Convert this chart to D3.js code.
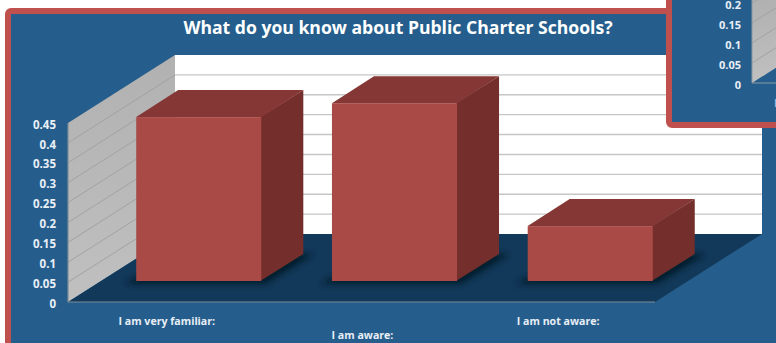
<!DOCTYPE html>
<html>
<head>
<meta charset="utf-8">
<script src="https://cdn.jsdelivr.net/npm/d3@7/dist/d3.min.js"></script>
<style>
html,body{margin:0;padding:0;background:#fff;overflow:hidden}
svg{display:block}
text{font-family:"Open Sans",sans-serif;font-weight:700}
</style>
</head>
<body>
<svg id="chart" width="776" height="343"></svg>
<script>
const titleText = "What do you know about Public Charter Schools?";
const categories = ["I am very familiar:", "I am aware:", "I am not aware:"];
const values = [0.412, 0.447, 0.138];
const yTicks = [0, 0.05, 0.1, 0.15, 0.2, 0.25, 0.3, 0.35, 0.4, 0.45];
const insetTicks = [0, 0.05, 0.1, 0.15, 0.2];

const colors = {
  blue: "#255e8c", frame: "#c0504d", floor: "#12395a", shadow: "#061c2b",
  wall: "#b9b9b9", wallGrid: "#a2a2a2", backGrid: "#c6c6c6",
  front: "#a94a46", top: "#843734", side: "#742f2d", text: "#e9eff6"
};

const svg = d3.select("#chart");

// Oblique projection: the floor recedes by this offset from front to back.
const depth = {dx: 107, dy: -68};
const barInset = {dx: 33, dy: -21};   // front face of a bar relative to the floor's front edge
const barDepth = {dx: 42, dy: -27};   // front-to-back extent of a bar

const plotLeft = 68, plotRight = 655;
const y = d3.scaleLinear().domain([0, 0.45]).range([302, 123]);
const x = d3.scaleBand().domain(categories).range([plotLeft, plotRight])
  .paddingInner(0.361).paddingOuter(0.18);
const labelX = d3.scaleBand().domain(categories).range([plotLeft, plotRight]);

const pts = a => a.map(p => p.join(",")).join(" ");

// Slide background and frame
svg.append("rect").attr("x", 8).attr("y", 11).attr("width", 820).attr("height", 400).attr("rx", 3)
  .attr("fill", colors.blue).attr("stroke", colors.frame).attr("stroke-width", 6);

const defs = svg.append("defs");
defs.append("filter").attr("id", "soft").attr("x", "-30%").attr("y", "-30%").attr("width", "160%").attr("height", "160%")
  .append("feGaussianBlur").attr("stdDeviation", 3);
const wallGrad = defs.append("linearGradient").attr("id", "wallFill").attr("x1", 0).attr("x2", 0).attr("y1", 0).attr("y2", 1);
wallGrad.append("stop").attr("offset", 0).attr("stop-color", "#b1b1b1");
wallGrad.append("stop").attr("offset", 1).attr("stop-color", "#c0c0c0");

// Back wall and gridlines
const y0 = y(0), yMax = y(0.45);
svg.append("polygon").attr("fill", "#fff").attr("points", pts([
  [plotLeft + depth.dx, yMax + depth.dy], [plotRight + depth.dx, yMax + depth.dy],
  [plotRight + depth.dx, y0 + depth.dy], [plotLeft + depth.dx, y0 + depth.dy]]));
svg.append("g").selectAll("line").data(yTicks.slice(1, -1)).join("line")
  .attr("x1", plotLeft + depth.dx).attr("x2", plotRight + depth.dx)
  .attr("y1", d => y(d) + depth.dy).attr("y2", d => y(d) + depth.dy)
  .attr("stroke", colors.backGrid).attr("stroke-width", 1.4);

// Side wall and its gridlines
svg.append("polygon").attr("fill", "url(#wallFill)").attr("points", pts([
  [plotLeft, yMax], [plotLeft + depth.dx, yMax + depth.dy],
  [plotLeft + depth.dx, y0 + depth.dy], [plotLeft, y0]]));
svg.append("g").selectAll("line").data(yTicks.slice(1, -1)).join("line")
  .attr("x1", plotLeft).attr("x2", plotLeft + depth.dx)
  .attr("y1", d => y(d)).attr("y2", d => y(d) + depth.dy)
  .attr("stroke", colors.wallGrid).attr("stroke-width", 1);

// Floor
svg.append("polygon").attr("fill", colors.floor).attr("points", pts([
  [plotLeft, y0], [plotRight, y0], [plotRight + depth.dx, y0 + depth.dy], [plotLeft + depth.dx, y0 + depth.dy]]));
svg.append("path").attr("fill", "none").attr("stroke", "#7d8b98").attr("stroke-width", 1.2)
  .attr("d", `M${plotLeft},${yMax}V${y0}H${plotRight}`);

// Bars: contact shadows go down first so no shadow falls across a neighbouring bar
const barData = categories.map((c, i) => ({c, v: values[i]}));
const bx = d => x(d.c) + barInset.dx;
const bw = x.bandwidth();
const by0 = y0 + barInset.dy;
const byt = d => y(d.v) + barInset.dy;

svg.append("g").selectAll("polygon").data(barData).join("polygon")
  .attr("fill", colors.shadow).attr("filter", "url(#soft)")
  .attr("points", d => pts([
    [bx(d) - 12, by0 + 3], [bx(d) + bw + 4, by0 + 3],
    [bx(d) + bw + barDepth.dx + 11, by0 + barDepth.dy], [bx(d) + barDepth.dx, by0 + barDepth.dy]]));

// The side face starts a pixel under the front face so the shared edge has no seam
const bars = svg.append("g").selectAll("g").data(barData).join("g");
bars.append("polygon").attr("fill", colors.side)
  .attr("points", d => pts([
    [bx(d) + bw - 1, byt(d)], [bx(d) + bw + barDepth.dx, byt(d) + barDepth.dy],
    [bx(d) + bw + barDepth.dx, by0 + barDepth.dy], [bx(d) + bw - 1, by0]]));
bars.append("polygon").attr("fill", colors.top)
  .attr("points", d => pts([
    [bx(d), byt(d)], [bx(d) + barDepth.dx, byt(d) + barDepth.dy],
    [bx(d) + bw + barDepth.dx, byt(d) + barDepth.dy], [bx(d) + bw, byt(d)]]));
bars.append("rect").attr("fill", colors.front)
  .attr("x", bx).attr("y", byt).attr("width", bw).attr("height", d => by0 - byt(d));

// Value axis
const axis = svg.append("g").attr("transform", `translate(${plotLeft},1.5)`)
  .call(d3.axisLeft(y).tickValues(yTicks).tickSize(0).tickPadding(12).tickFormat(d => String(d)));
axis.select(".domain").remove();
axis.selectAll("text").attr("fill", colors.text).attr("font-size", 11.5)
  .style("font-family", '"Open Sans",sans-serif').style("font-weight", 700);

// Category labels, staggered on two rows
svg.append("g").selectAll("text").data(categories).join("text")
  .attr("x", d => labelX(d) + labelX.bandwidth() / 2 + 1)
  .attr("y", (d, i) => i === 1 ? 339 : 325)
  .attr("text-anchor", "middle").attr("font-size", 10.6).attr("fill", colors.text)
  .text(d => d);

// Title
svg.append("text").attr("x", 398).attr("y", 34).attr("text-anchor", "middle")
  .attr("font-size", 17.6).attr("fill", "#fff").text(titleText);

// Neighbouring chart panel overlapping the top-right corner
const inset = svg.append("g");
inset.append("rect").attr("x", 669).attr("y", -20).attr("width", 140).attr("height", 145).attr("rx", 3)
  .attr("fill", colors.blue).attr("stroke", colors.frame).attr("stroke-width", 6);
const insetY = d3.scaleLinear().domain([0, 0.2]).range([83, 3]);
const insetLeft = 752, insetEdge = 776;
const slope = depth.dy / depth.dx;
inset.append("polygon").attr("fill", "url(#wallFill)").attr("points", pts([
  [insetLeft, insetY(0)], [insetEdge, insetY(0) + (insetEdge - insetLeft) * slope],
  [insetEdge, 0], [insetLeft, 0]]));
inset.append("g").selectAll("line").data(insetTicks.slice(1)).join("line")
  .attr("x1", insetLeft).attr("x2", insetEdge)
  .attr("y1", d => insetY(d)).attr("y2", d => insetY(d) + (insetEdge - insetLeft) * slope)
  .attr("stroke", colors.wallGrid);
inset.append("path").attr("fill", "none").attr("stroke", "#8c98a4").attr("stroke-width", 1)
  .attr("d", `M${insetLeft},0V${insetY(0)}H${insetEdge}`);
const insetAxis = inset.append("g").attr("transform", `translate(${insetLeft},2)`)
  .call(d3.axisLeft(insetY).tickValues(insetTicks).tickSize(0).tickPadding(11).tickFormat(d => String(d)));
insetAxis.select(".domain").remove();
insetAxis.selectAll("text").attr("fill", colors.text).attr("font-size", 11)
  .style("font-family", '"Open Sans",sans-serif').style("font-weight", 700);
inset.append("text").attr("x", 774).attr("y", 107).attr("font-size", 10).attr("fill", "#8fb6dc").text("I");
</script>
</body>
</html>
